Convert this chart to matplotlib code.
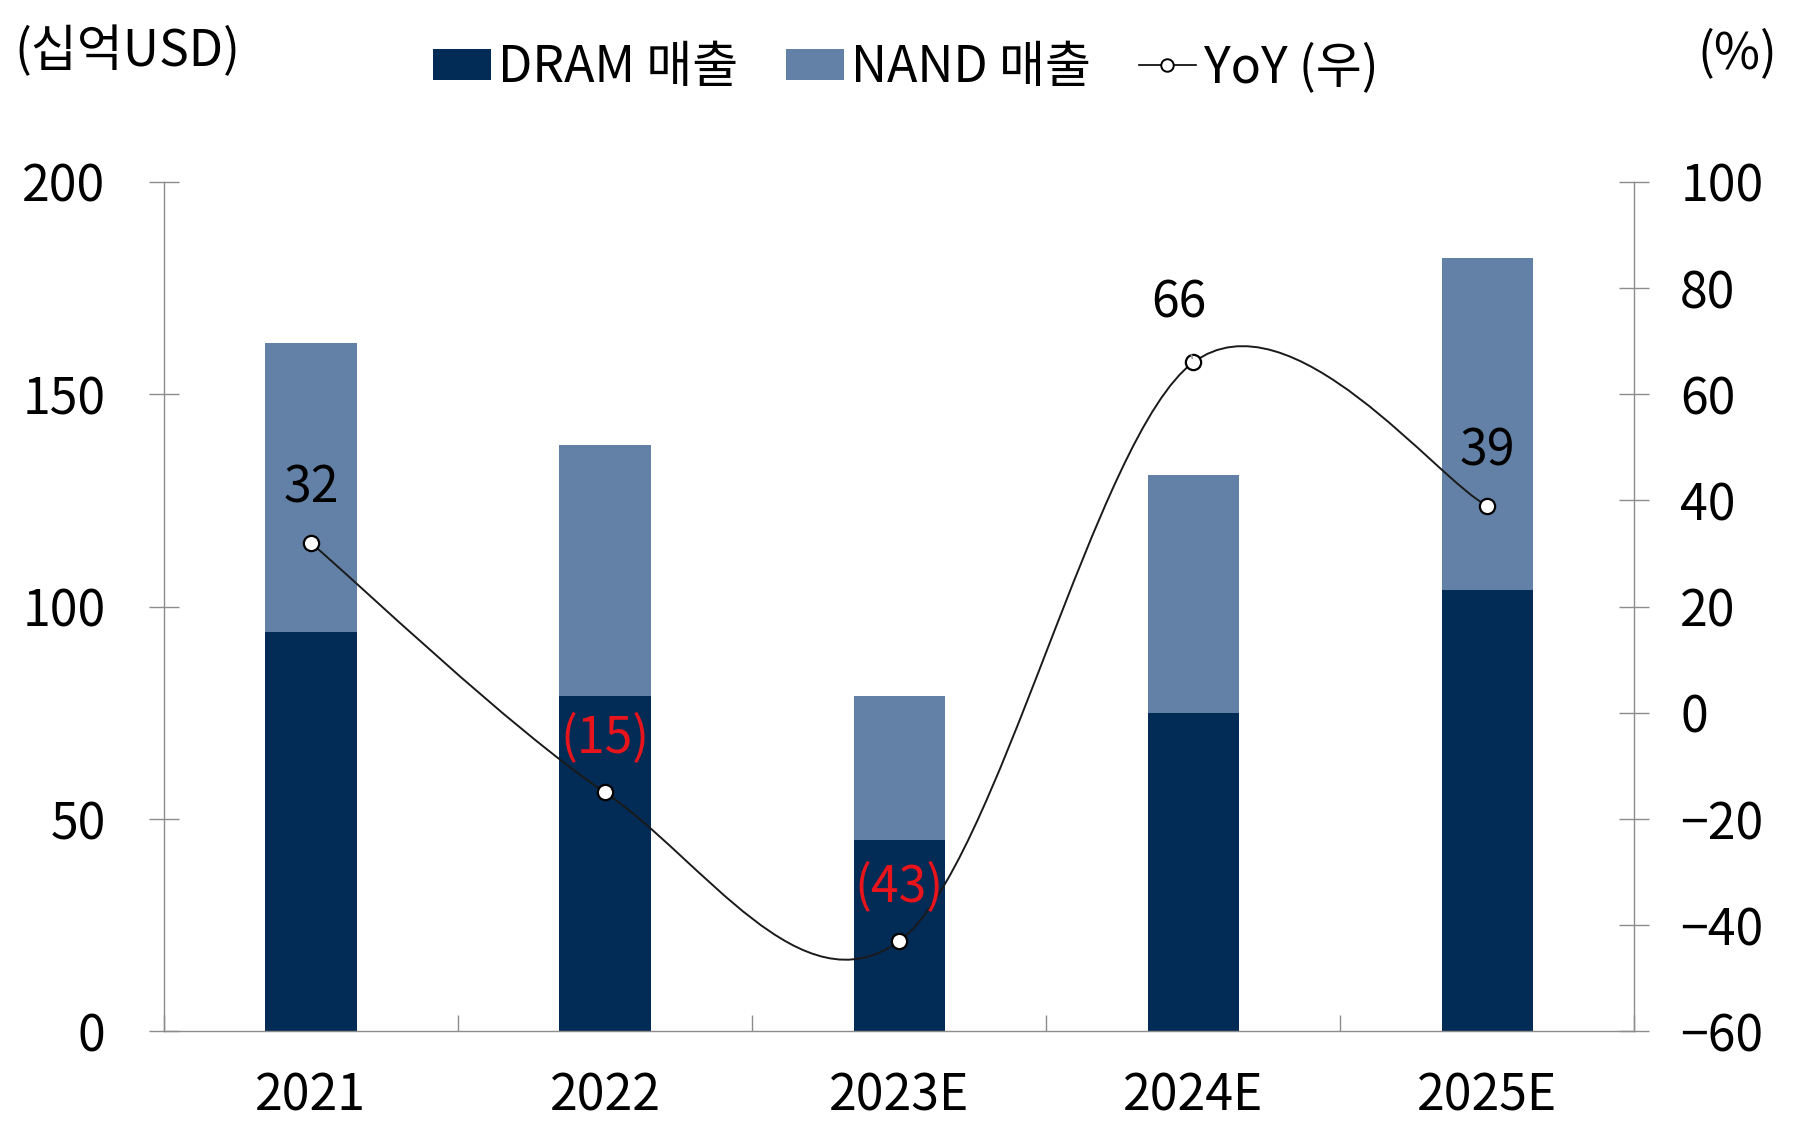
import matplotlib
matplotlib.use("Agg")
import matplotlib.pyplot as plt
from matplotlib.path import Path
from matplotlib.patches import PathPatch, Patch
from matplotlib.lines import Line2D
import numpy as np

plt.rcParams['font.family'] = ['Noto Sans CJK KR', 'DejaVu Sans']

categories = ['2021', '2022', '2023E', '2024E', '2025E']
dram = [94, 79, 45, 75, 104]
nand = [68, 59, 34, 56, 78]
yoy = [32, -15, -43, 66, 39]
yoy_labels = ['32', '(15)', '(43)', '66', '39']
left_ticks = [0, 50, 100, 150, 200]
right_ticks = [-60, -40, -20, 0, 20, 40, 60, 80, 100]

DRAM_C = '#022B55'
NAND_C = '#6381A6'
RED = '#E8141C'
SPINE = '#8C8C8C'
FS = 36

fig = plt.figure(figsize=(18.01, 11.35), dpi=100)
ax = fig.add_axes([0.091, 0.0913, 0.8165, 0.7484])
ax2 = ax.twinx()

x = np.arange(len(categories))
w = 0.31
ax.bar(x, dram, width=w, color=DRAM_C, zorder=2)
ax.bar(x, nand, width=w, bottom=dram, color=NAND_C, zorder=2)

ax.set_xlim(-0.5, len(categories) - 0.5)
ax.set_ylim(0, 200)
ax2.set_ylim(-60, 100)
ax.set_yticks(left_ticks)
ax2.set_yticks(right_ticks)
ax.set_xticks(x)
ax.set_xticklabels(categories)
ax.set_xticks(np.arange(len(categories) + 1) - 0.5, minor=True)

for a in (ax, ax2):
    a.spines['top'].set_visible(False)
    for s in ('left', 'right', 'bottom'):
        a.spines[s].set_color(SPINE)
        a.spines[s].set_linewidth(1.0)
ax.spines['right'].set_visible(False)
ax2.spines['left'].set_visible(False)
ax2.spines['bottom'].set_visible(False)

ax.tick_params(axis='y', direction='inout', length=22, width=1.0, color=SPINE,
               labelsize=FS, pad=31)
ax2.tick_params(axis='y', direction='inout', length=22, width=1.0, color=SPINE,
                labelsize=FS, pad=22)
ax.tick_params(axis='x', which='major', length=0, labelsize=FS, pad=28)
ax.tick_params(axis='x', which='minor', direction='in', length=11.5, width=1.0,
               color=SPINE)

# smoothed YoY line (Bezier through data points)
pts = list(zip(x.astype(float), yoy))
n = len(pts)
verts = [pts[0]]
codes = [Path.MOVETO]
for i in range(n - 1):
    p0 = np.array(pts[i - 1] if i > 0 else pts[i])
    p1 = np.array(pts[i])
    p2 = np.array(pts[i + 1])
    p3 = np.array(pts[i + 2] if i + 2 < n else pts[i + 1])
    c1 = p1 + (p2 - p0) / 6.0
    c2 = p2 - (p3 - p1) / 6.0
    verts += [tuple(c1), tuple(c2), tuple(p2)]
    codes += [Path.CURVE4] * 3
ax2.add_patch(PathPatch(Path(verts, codes), facecolor='none', edgecolor='#1a1a1a',
                        lw=1.4, zorder=3))
ax2.plot(x, yoy, linestyle='none', marker='o', ms=11, mfc='white', mec='black',
         mew=1.6, zorder=4)

for i, (xv, yv, lab) in enumerate(zip(x, yoy, yoy_labels)):
    col = RED if yv < 0 else 'black'
    if lab == '66':
        ax2.annotate(lab, xy=(xv, yv), xytext=(-14 * 0.72, 59 * 0.72),
                     textcoords='offset points', ha='center', va='center',
                     fontsize=FS, color=col, zorder=5,
                     arrowprops=dict(arrowstyle='-', color='#A0A0A0', lw=1.3,
                                     shrinkA=17, shrinkB=3))
    else:
        ax2.annotate(lab, xy=(xv, yv), xytext=(0, 54 * 0.72),
                     textcoords='offset points', ha='center', va='center',
                     fontsize=FS, color=col, zorder=5)

fig.text(0.008, 0.954, '(십억USD)', fontsize=FS, ha='left', va='center')
fig.text(0.987, 0.952, '(%)', fontsize=FS, ha='right', va='center')

handles = [Patch(facecolor=DRAM_C, edgecolor='none'),
           Patch(facecolor=NAND_C, edgecolor='none'),
           Line2D([], [], color='black', lw=1.2, marker='o', ms=9, mfc='white',
                  mec='black', mew=1.4)]
fig.legend(handles, ['DRAM 매출', 'NAND 매출', 'YoY (우)'], loc='center',
           bbox_to_anchor=(0.503, 0.940), ncol=3, frameon=False, fontsize=FS,
           handlelength=1.15, handleheight=0.6, handletextpad=0.15,
           columnspacing=0.95, borderpad=0, borderaxespad=0)

fig.savefig('out.png', dpi=100)
